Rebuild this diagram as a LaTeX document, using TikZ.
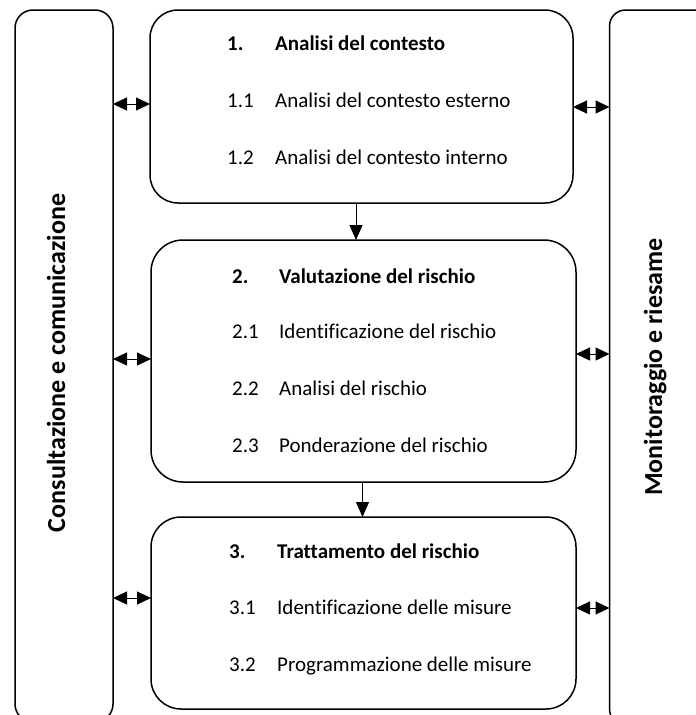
\documentclass[tikz,border=0pt]{standalone}
\usepackage{fontspec}
\setmainfont{Carlito}[Ligatures=NoCommon]
\usetikzlibrary{arrows.meta}
\begin{document}
\begin{tikzpicture}[x=1pt,y=-1pt,
  frame/.style={draw=black, line width=1.5pt, fill=white, inner sep=0pt, outer sep=0pt, anchor=north west},
  txt/.style={inner sep=0pt, anchor=base west, font=\fontsize{21}{25}\selectfont},
  btxt/.style={txt, font=\fontsize{21}{25}\selectfont\bfseries},
  vlab/.style={inner sep=0pt, anchor=base, rotate=90, font=\fontsize{26}{30}\selectfont\bfseries},
  dbl/.style={line width=1pt, {Triangle[length=14pt,width=13pt]}-{Triangle[length=14pt,width=13pt]}},
  down/.style={line width=1pt, -{Triangle[length=15pt,width=13pt]}}
]
\useasboundingbox (0,0) rectangle (696,715);
% side panels
\node[frame, rounded corners=18pt, minimum width=98pt, minimum height=712pt] (lp) at (15,10) {};
\node[frame, rounded corners=16pt, minimum width=120pt, minimum height=715pt] (rp) at (609.5,10) {};
% main boxes
\node[frame, rounded corners=28pt, minimum width=423pt, minimum height=193pt] (b1) at (150,10) {};
\node[frame, rounded corners=32pt, minimum width=425pt, minimum height=242pt] (b2) at (151,240) {};
\node[frame, rounded corners=30pt, minimum width=425pt, minimum height=192pt] (b3) at (151,517) {};
% vertical labels
\node[vlab] (lcc) at (65,363) {Consultazione e comunicazione};
\node[vlab] (lmr) at (662,367) {Monitoraggio e riesame};
% box 1 text
\node[btxt] (n1) at (227,50) {1.};
\node[btxt] (t1) at (275,50) {Analisi del contesto};
\node[txt] (n11) at (227,107) {1.1};
\node[txt] (t11) at (275,107) {Analisi del contesto esterno};
\node[txt] (n12) at (227,164) {1.2};
\node[txt] (t12) at (275,164) {Analisi del contesto interno};
% box 2 text
\node[btxt] (n2) at (232,283) {2.};
\node[btxt] (t2) at (279,283) {Valutazione del rischio};
\node[txt] (n21) at (232,338) {2.1};
\node[txt] (t21) at (279,338) {Identificazione del rischio};
\node[txt] (n22) at (232,395) {2.2};
\node[txt] (t22) at (279,395) {Analisi del rischio};
\node[txt] (n23) at (232,452) {2.3};
\node[txt] (t23) at (279,452) {Ponderazione del rischio};
% box 3 text
\node[btxt] (n3) at (229,558) {3.};
\node[btxt] (t3) at (277,558) {Trattamento del rischio};
\node[txt] (n31) at (229,614) {3.1};
\node[txt] (t31) at (277,614) {Identificazione delle misure};
\node[txt] (n32) at (229,671) {3.2};
\node[txt] (t32) at (277,671) {Programmazione delle misure};
% helper coordinates
\coordinate (x1) at (356,0);
\coordinate (x2) at (362.5,0);
\coordinate (yl1) at (0,104);
\coordinate (yl2) at (0,359);
\coordinate (yl3) at (0,598);
\coordinate (yr1) at (0,107);
\coordinate (yr2) at (0,354);
\coordinate (yr3) at (0,608);
% flow arrows
\draw[down] (b1.south -| x1) -- (b2.north -| x1);
\draw[down] (b2.south -| x2) -- (b3.north -| x2);
% double arrows
\draw[dbl] (lp.east |- yl1) -- (b1.west |- yl1);
\draw[dbl] (lp.east |- yl2) -- (b2.west |- yl2);
\draw[dbl] (lp.east |- yl3) -- (b3.west |- yl3);
\draw[dbl] (b1.east |- yr1) -- (rp.west |- yr1);
\draw[dbl] (b2.east |- yr2) -- (rp.west |- yr2);
\draw[dbl] (b3.east |- yr3) -- (rp.west |- yr3);
\end{tikzpicture}
\end{document}
